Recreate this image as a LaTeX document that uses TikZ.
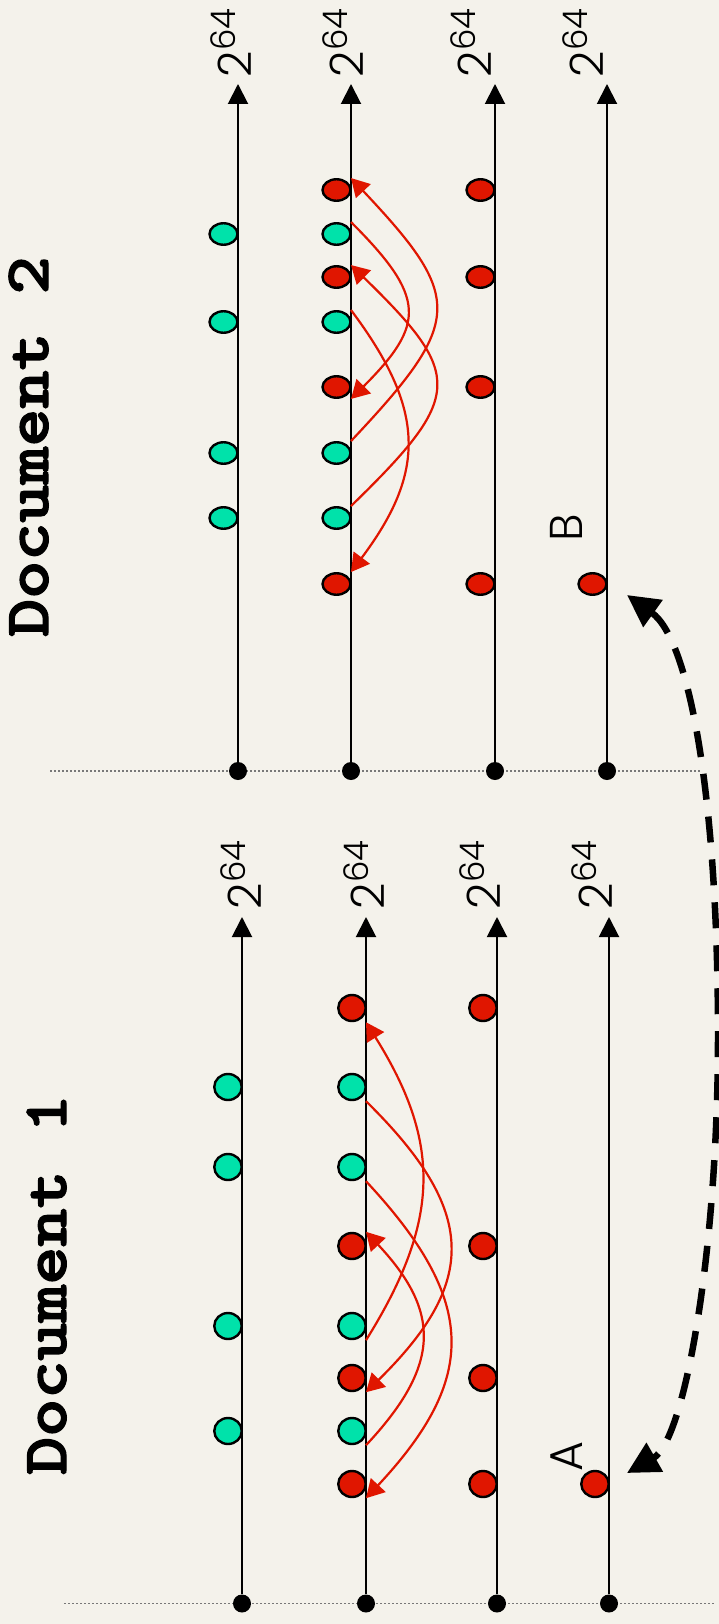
\documentclass[tikz,border=0pt]{standalone}
\usepackage{fontspec}
\IfFontExistsTF{Poppins Light}{\newfontfamily\lblfont{Poppins Light}}{%
  \IfFontExistsTF{Lato Light}{\newfontfamily\lblfont{Lato Light}}{\newfontfamily\lblfont{Poppins}}}
\newfontfamily\ttlfont{lmmonolt10-bold.otf}[FakeBold=2]
\usetikzlibrary{arrows.meta,shapes.geometric}
\definecolor{bgc}{RGB}{244,242,235}
\definecolor{dotred}{RGB}{224,22,0}
\definecolor{dotgreen}{RGB}{0,226,170}
\definecolor{guidegray}{RGB}{120,120,120}
\newcommand\powlabel{{\fontsize{46}{46}\selectfont 2}\raisebox{16pt}{\fontsize{34}{34}\selectfont 64}}
\newcommand\doctitle[1]{\scalebox{1.15}[1]{\fontsize{63}{63}\selectfont\ttlfont #1}}
\begin{document}
\begin{tikzpicture}[x=1pt,y=-1pt,
  axis/.style={line width=2pt,-{Triangle[length=20pt,width=20pt]}},
  bdot/.style={circle,fill=black,minimum size=18pt,inner sep=0pt},
  guide/.style={guidegray,line width=1.5pt,dash pattern=on 1.5pt off 2.5pt},
  dtwo/.style={ellipse,draw=black,line width=2.4pt,minimum width=28pt,minimum height=21.5pt,inner sep=0pt},
  done/.style={ellipse,draw=black,line width=2.4pt,minimum width=27.5pt,minimum height=26pt,inner sep=0pt},
  rd/.style={fill=dotred},
  gd/.style={fill=dotgreen},
  link/.style={dotred,line width=2.2pt,-{Triangle[length=18pt,width=20pt]}},
  hop/.style={black,line width=6.5pt,dash pattern=on 26pt off 17pt,{Triangle[length=32pt,width=32pt]}-{Triangle[length=32pt,width=32pt]}},
  pow/.style={rotate=90,anchor=base west,inner sep=0pt,font=\lblfont},
  ttl/.style={rotate=90,anchor=base west,inner sep=0pt},
]
\fill[bgc] (0,0) rectangle (719,1624);
\useasboundingbox (0,0) rectangle (719,1624);

% ---------------- Document 2 ----------------
\coordinate (gl2s) at (50,771);
\coordinate (gl2e) at (700,771);
\draw[guide] (gl2s) -- (gl2e);

\node[bdot] (b2a) at (238,771) {};
\node[bdot] (b2b) at (351,771) {};
\node[bdot] (b2c) at (495,771) {};
\node[bdot] (b2d) at (607,771) {};
\coordinate (t2a) at (238,84);
\coordinate (t2b) at (351,84);
\coordinate (t2c) at (495,84);
\coordinate (t2d) at (607,84);
\draw[axis] (b2a) -- (t2a);
\draw[axis] (b2b) -- (t2b);
\draw[axis] (b2c) -- (t2c);
\draw[axis] (b2d) -- (t2d);

\node[pow] (p2a) at (251,77.5) {\powlabel};
\node[pow] (p2b) at (363,77.5) {\powlabel};
\node[pow] (p2c) at (491.5,77.5) {\powlabel};
\node[pow] (p2d) at (603,77.5) {\powlabel};

\node[dtwo,gd] (g2a234) at (223.5,234) {};
\node[dtwo,gd] (g2a322) at (223.5,322) {};
\node[dtwo,gd] (g2a453) at (223.5,453) {};
\node[dtwo,gd] (g2a518) at (223.5,518) {};

\node[dtwo,rd] (r2b190) at (336.5,190) {};
\node[dtwo,gd] (g2b234) at (336.5,234) {};
\node[dtwo,rd] (r2b277) at (336.5,277) {};
\node[dtwo,gd] (g2b322) at (336.5,322) {};
\node[dtwo,rd] (r2b387) at (336.5,387) {};
\node[dtwo,gd] (g2b453) at (336.5,453) {};
\node[dtwo,gd] (g2b518) at (336.5,518) {};
\node[dtwo,rd] (r2b584) at (336.5,584) {};

\node[dtwo,rd] (r2c190) at (480.5,190) {};
\node[dtwo,rd] (r2c277) at (480.5,277) {};
\node[dtwo,rd] (r2c387) at (480.5,387) {};
\node[dtwo,rd] (r2c584) at (480.5,584) {};

\node[dtwo,rd] (r2d584) at (592.5,584) {};
\node[pow] (lblB) at (582,542) {\fontsize{46}{46}\selectfont B};

\draw[link] (g2b234.north -| b2b) .. controls +(75,75) and +(75,-75) .. (r2b387.south -| b2b);
\draw[link] (g2b322.north -| b2b) .. controls +(75,100) and +(75,-100) .. (r2b584.north -| b2b);
\draw[link] (g2b453.north -| b2b) .. controls +(113,-120) and +(113,120) .. (r2b190.north -| b2b);
\draw[link] (g2b518.north -| b2b) .. controls +(113,-110) and +(113,110) .. (r2b277.north -| b2b);

\node[ttl] (title2) at (48,637) {\doctitle{Document 2}};

% ---------------- Document 1 ----------------
\coordinate (gl1s) at (64,1603.5);
\coordinate (gl1e) at (714,1603.5);
\draw[guide] (gl1s) -- (gl1e);

\node[bdot] (b1a) at (242,1603.5) {};
\node[bdot] (b1b) at (366,1603.5) {};
\node[bdot] (b1c) at (497,1603.5) {};
\node[bdot] (b1d) at (609,1603.5) {};
\coordinate (t1a) at (242,917);
\coordinate (t1b) at (366,917);
\coordinate (t1c) at (497,917);
\coordinate (t1d) at (609,917);
\draw[axis] (b1a) -- (t1a);
\draw[axis] (b1b) -- (t1b);
\draw[axis] (b1c) -- (t1c);
\draw[axis] (b1d) -- (t1d);

\node[pow] (p1a) at (261,909.5) {\powlabel};
\node[pow] (p1b) at (384,909.5) {\powlabel};
\node[pow] (p1c) at (500,909.5) {\powlabel};
\node[pow] (p1d) at (612,909.5) {\powlabel};

\node[done,gd] (g1a1087) at (228,1087) {};
\node[done,gd] (g1a1167) at (228,1167) {};
\node[done,gd] (g1a1326) at (228,1326) {};
\node[done,gd] (g1a1431) at (228,1431) {};

\node[done,rd] (r1b1008) at (352,1008) {};
\node[done,gd] (g1b1087) at (352,1087) {};
\node[done,gd] (g1b1167) at (352,1167) {};
\node[done,rd] (r1b1246) at (352,1246) {};
\node[done,gd] (g1b1326) at (352,1326) {};
\node[done,rd] (r1b1378) at (352,1378) {};
\node[done,gd] (g1b1431) at (352,1431) {};
\node[done,rd] (r1b1484) at (352,1484) {};

\node[done,rd] (r1c1008) at (483,1008) {};
\node[done,rd] (r1c1246) at (483,1246) {};
\node[done,rd] (r1c1378) at (483,1378) {};
\node[done,rd] (r1c1484) at (483,1484) {};

\node[done,rd] (r1d1484) at (595,1484) {};
\node[pow] (lblA) at (582,1472) {\fontsize{46}{46}\selectfont A};

\draw[link] (g1b1326.south -| b1b) .. controls +(75,-120) and +(75,120) .. (r1b1008.south -| b1b);
\draw[link] (g1b1087.south -| b1b) .. controls +(112,110) and +(112,-110) .. (r1b1378.south -| b1b);
\draw[link] (g1b1167.south -| b1b) .. controls +(112,120) and +(112,-120) .. (r1b1484.south -| b1b);
\draw[link] (g1b1431.south -| b1b) .. controls +(75,-80) and +(75,80) .. (r1b1246.north -| b1b);

\node[ttl] (title1) at (66,1475) {\doctitle{Document 1}};

% ---------------- dashed link A <-> B ----------------
\coordinate (hB) at (627,595);
\coordinate (hM) at (718,1036);
\coordinate (hA) at (627,1473);
\draw[hop] (hB) .. controls (690,640) and (718,800) .. (hM) .. controls (718,1250) and (685,1440) .. (hA);
\end{tikzpicture}
\end{document}
